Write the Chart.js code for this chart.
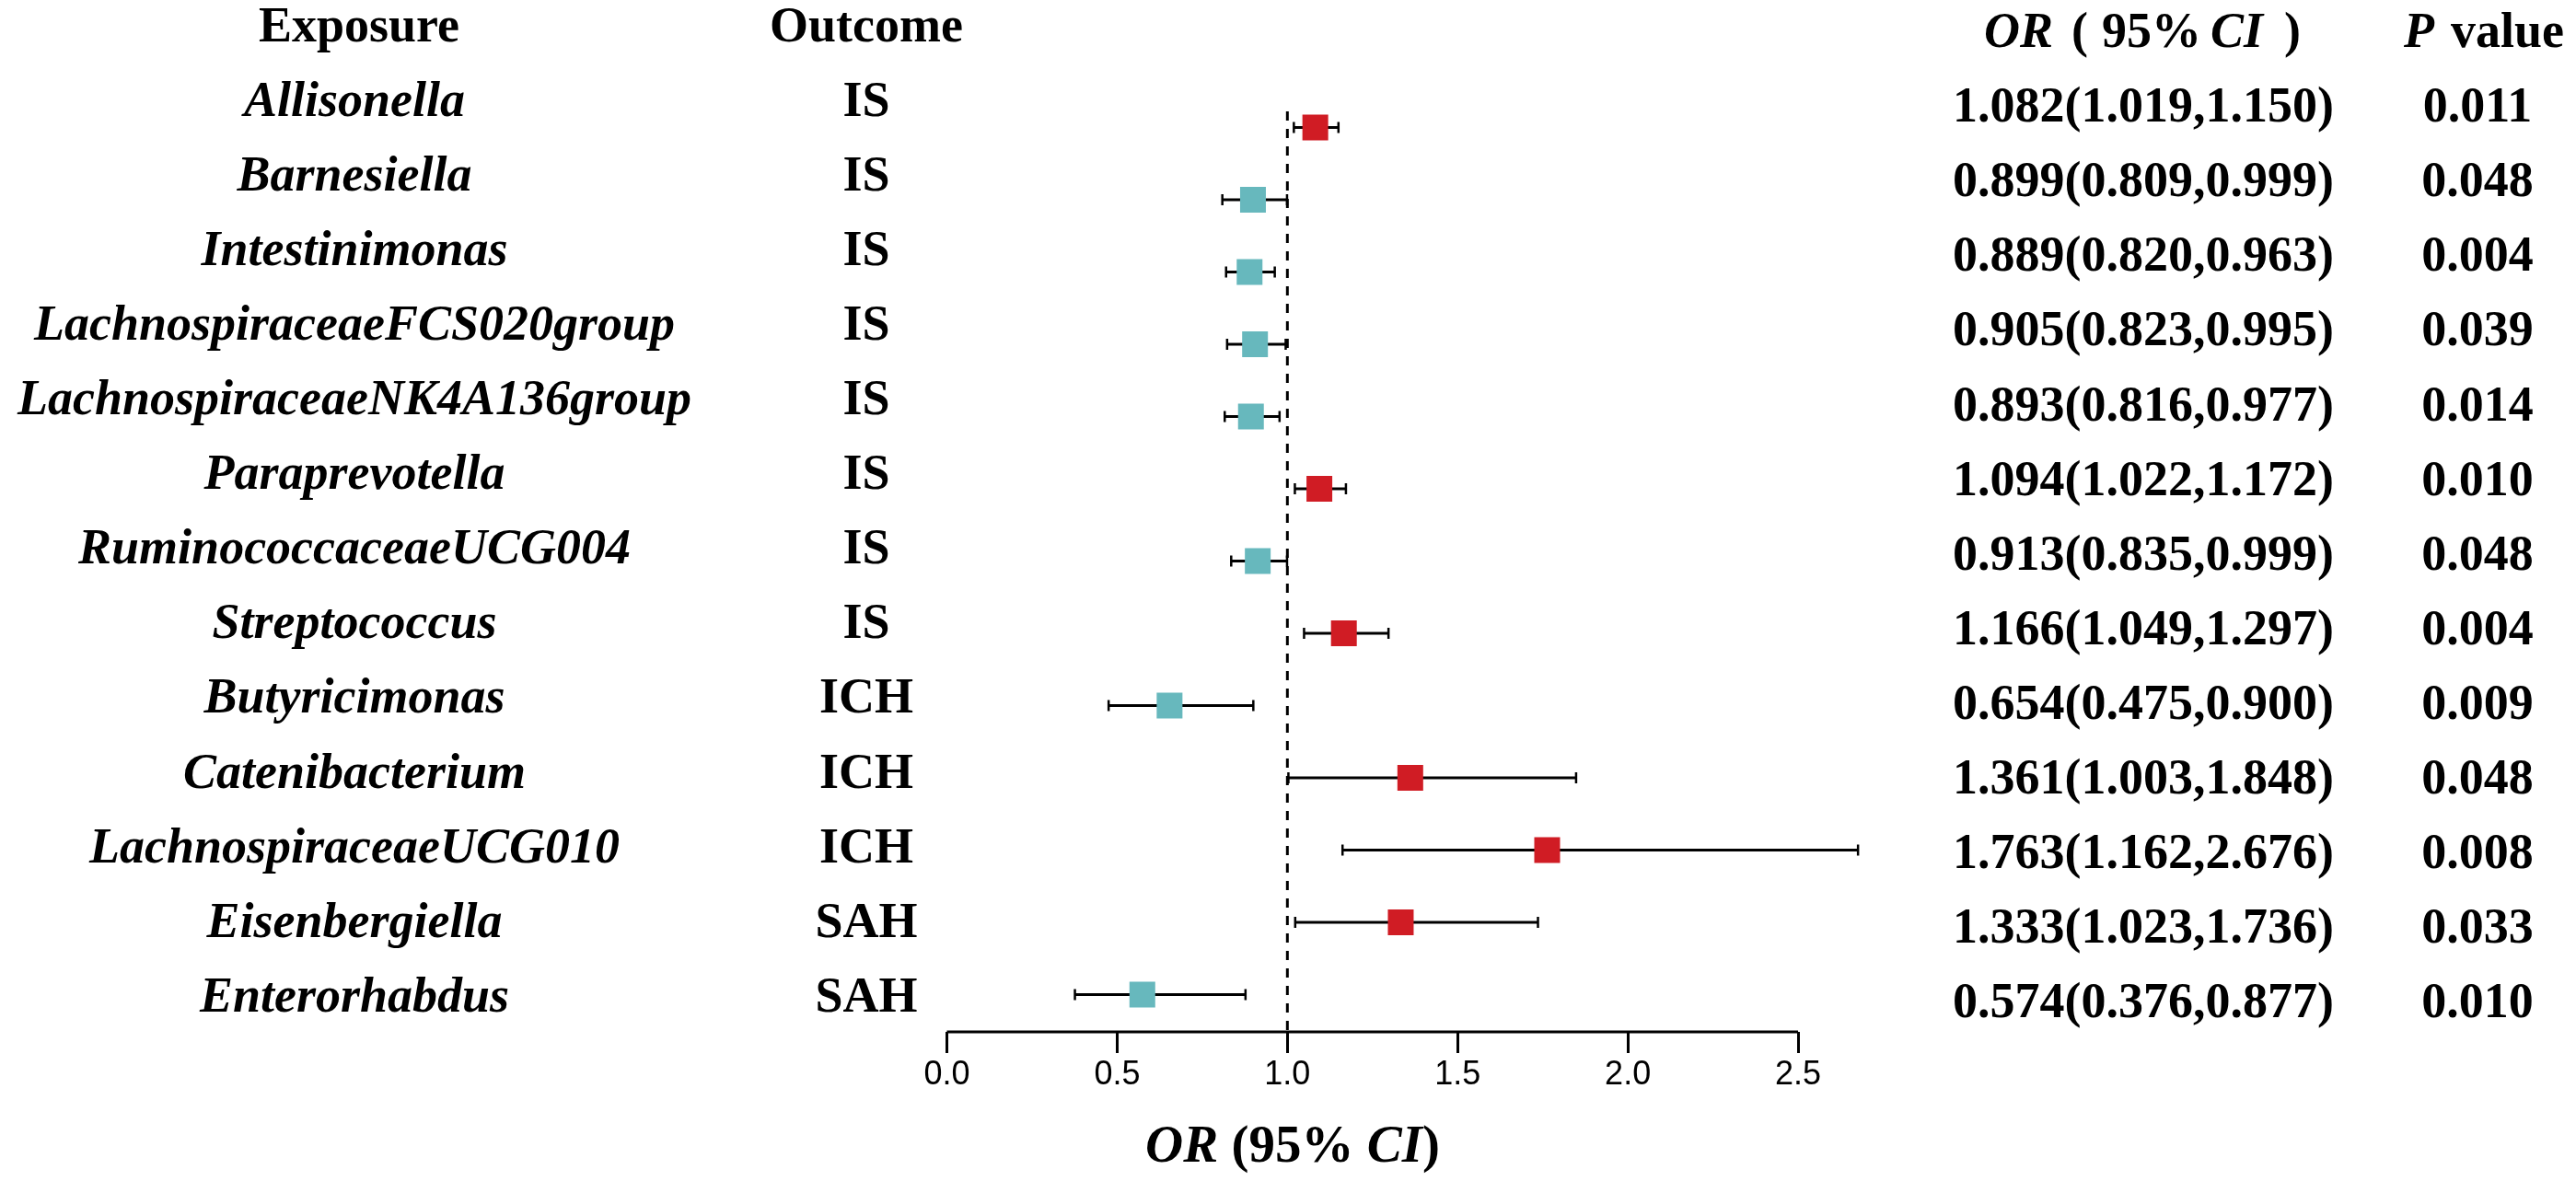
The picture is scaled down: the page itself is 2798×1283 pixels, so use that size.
<!DOCTYPE html>
<html lang="en">
<head>
<meta charset="UTF-8">
<title>Forest plot</title>
<script src="https://cdn.jsdelivr.net/npm/chart.js"></script>
<style>
    html, body { margin: 0; padding: 0; background: #ffffff; }
    #wrap { width: 2798px; height: 1283px; position: relative; }
</style>
</head>
<body>
<div id="wrap"><canvas id="forest"></canvas></div>
<script>
// data
const exposures = ['Allisonella', 'Barnesiella', 'Intestinimonas', 'LachnospiraceaeFCS020group',
    'LachnospiraceaeNK4A136group', 'Paraprevotella', 'RuminococcaceaeUCG004', 'Streptococcus',
    'Butyricimonas', 'Catenibacterium', 'LachnospiraceaeUCG010', 'Eisenbergiella', 'Enterorhabdus'];
const outcomes = ['IS', 'IS', 'IS', 'IS', 'IS', 'IS', 'IS', 'IS', 'ICH', 'ICH', 'ICH', 'SAH', 'SAH'];
const oddsRatio = [1.082, 0.899, 0.889, 0.905, 0.893, 1.094, 0.913, 1.166, 0.654, 1.361, 1.763, 1.333, 0.574];
const ciLower = [1.019, 0.809, 0.820, 0.823, 0.816, 1.022, 0.835, 1.049, 0.475, 1.003, 1.162, 1.023, 0.376];
const ciUpper = [1.150, 0.999, 0.963, 0.995, 0.977, 1.172, 0.999, 1.297, 0.900, 1.848, 2.676, 1.736, 0.877];
const pValues = ['0.011', '0.048', '0.004', '0.039', '0.014', '0.010', '0.048', '0.004', '0.009', '0.048', '0.008', '0.033', '0.010'];
const xTickValues = [0, 0.5, 1.0, 1.5, 2.0, 2.5];

const RED = '#d01c24';
const TEAL = '#67b8bd';
const SERIF = '"Liberation Serif", "Times New Roman", serif';

// writes several runs [text, italic, gapBefore] in bold, centred on cx
function drawRuns(ctx, runs, cx, baseline, size) {
    size = size || 54;
    const fontOf = r => (r[1] ? 'italic ' : '') + 'bold ' + size + 'px ' + SERIF;
    let total = 0;
    runs.forEach(r => {
        ctx.font = fontOf(r);
        total += (r[2] || 0) + ctx.measureText(r[0]).width;
    });
    let px = cx - total / 2;
    runs.forEach(r => {
        ctx.font = fontOf(r);
        px += r[2] || 0;
        ctx.fillText(r[0], px, baseline);
        px += ctx.measureText(r[0]).width;
    });
}

const forestLayer = {
    id: 'forestLayer',
    beforeDatasetsDraw(chart) {
        const { ctx, chartArea, scales: { x, y } } = chart;
        ctx.save();
        ctx.strokeStyle = '#000';

        // dashed line at OR = 1
        const x1 = x.getPixelForValue(1);
        ctx.lineWidth = 3;
        ctx.setLineDash([10, 9]);
        ctx.beginPath();
        ctx.moveTo(x1, chartArea.top);
        ctx.lineTo(x1, chartArea.bottom);
        ctx.stroke();
        ctx.setLineDash([]);

        // confidence intervals
        ciLower.forEach((lo, i) => {
            const py = y.getPixelForValue(i);
            const a = x.getPixelForValue(lo);
            const b = x.getPixelForValue(ciUpper[i]);
            ctx.lineWidth = 3.2;
            ctx.beginPath();
            ctx.moveTo(a, py);
            ctx.lineTo(b, py);
            ctx.stroke();
            ctx.lineWidth = 2.5;
            ctx.beginPath();
            ctx.moveTo(a, py - 6); ctx.lineTo(a, py + 6);
            ctx.moveTo(b, py - 6); ctx.lineTo(b, py + 6);
            ctx.stroke();
        });

        // axis line, only as far as the last tick
        ctx.lineWidth = 3;
        ctx.beginPath();
        ctx.moveTo(x.getPixelForValue(xTickValues[0]), chartArea.bottom);
        ctx.lineTo(x.getPixelForValue(xTickValues[xTickValues.length - 1]), chartArea.bottom);
        ctx.stroke();
        ctx.restore();
    },
    afterDraw(chart) {
        const { ctx, scales: { y2 } } = chart;
        ctx.save();
        ctx.fillStyle = '#000';
        ctx.textAlign = 'left';
        ctx.textBaseline = 'alphabetic';

        // headers
        drawRuns(ctx, [['Exposure', false]], 390, 45);
        drawRuns(ctx, [['Outcome', false]], 941, 45);
        drawRuns(ctx, [['OR', true], ['(', false, 20], ['95%', false, 15], ['CI', true, 10], [')', false, 23]], 2327, 51);
        drawRuns(ctx, [['P', true], ['value', false, 18]], 2698, 51);

        // table rows
        exposures.forEach((name, i) => {
            const cy = y2.getPixelForValue(i);
            drawRuns(ctx, [[name, true]], 385, cy + 11);
            drawRuns(ctx, [[outcomes[i], false]], 941, cy + 11);
            const txt = oddsRatio[i].toFixed(3) + '(' + ciLower[i].toFixed(3) + ',' + ciUpper[i].toFixed(3) + ')';
            drawRuns(ctx, [[txt, false]], 2328, cy + 17.5);
            drawRuns(ctx, [[pValues[i], false]], 2691, cy + 17.5);
        });

        // x axis title
        drawRuns(ctx, [['OR', true], [' (95% ', false], ['CI', true], [')', false]], 1404, 1262, 57);
        ctx.restore();
    }
};

const ctx = document.getElementById('forest').getContext('2d');
new Chart(ctx, {
    type: 'scatter',
    data: {
        datasets: [{
            data: oddsRatio.map((v, i) => ({ x: v, y: i })),
            pointStyle: 'rect',
            pointRadius: 19.8,
            pointHoverRadius: 19.8,
            borderWidth: 0,
            backgroundColor: oddsRatio.map(v => v > 1 ? RED : TEAL)
        }]
    },
    options: {
        responsive: true,
        maintainAspectRatio: false,
        devicePixelRatio: 1,
        animation: false,
        layout: { padding: { left: 1028.5, right: 734, top: 121, bottom: 92 } },
        plugins: { legend: { display: false }, tooltip: { enabled: false } },
        scales: {
            x: {
                type: 'linear',
                min: 0,
                max: 2.8,
                border: { display: false },
                grid: { drawOnChartArea: false, drawTicks: true, tickLength: 23, tickWidth: 3, tickColor: '#000' },
                ticks: {
                    stepSize: 0.5,
                    includeBounds: false,
                    padding: 2,
                    color: '#000',
                    font: { family: '"Liberation Sans", Arial, sans-serif', size: 36 },
                    callback: v => Number(v).toFixed(1)
                },
                afterBuildTicks: s => { s.ticks = xTickValues.map(v => ({ value: v })); },
                afterFit: s => { s.height = 70; }
            },
            y: {
                type: 'linear',
                display: false,
                reverse: true,
                min: -0.223,
                max: 12.516
            },
            y2: {
                type: 'linear',
                axis: 'y',
                display: false,
                reverse: true,
                min: 0.080,
                max: 12.407
            }
        }
    },
    plugins: [forestLayer]
});
</script>
</body>
</html>
